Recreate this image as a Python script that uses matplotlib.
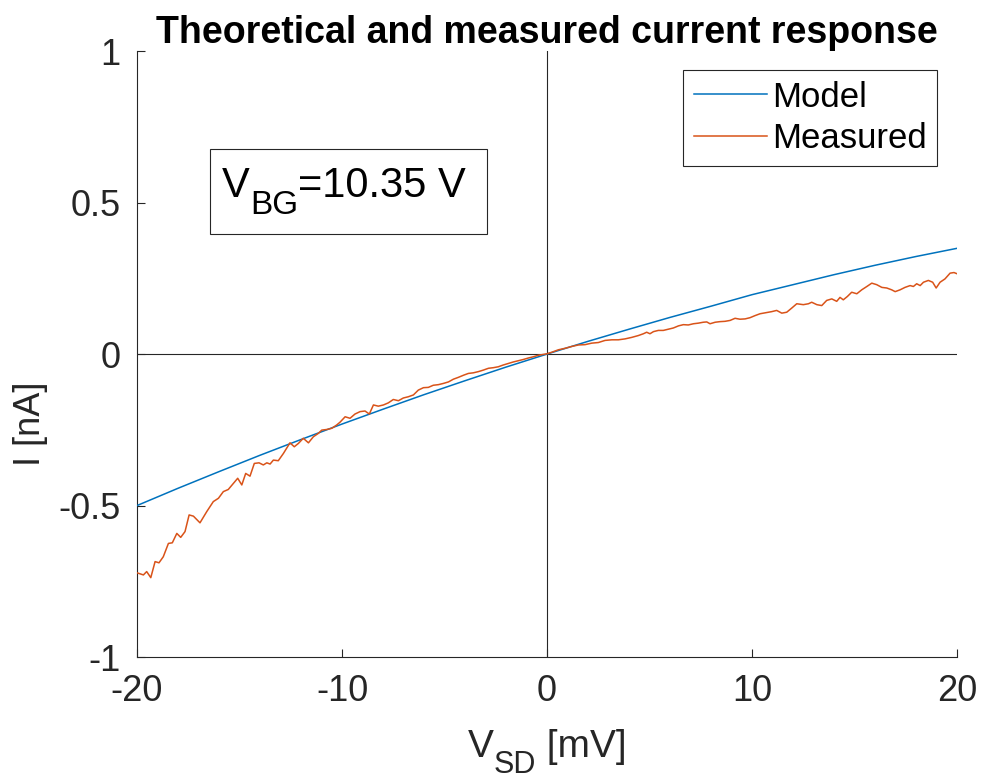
#%% Librerias
import numpy as np
import matplotlib
matplotlib.use('Agg')
import matplotlib.pyplot as plt
from matplotlib.patches import Rectangle

plt.rcParams['font.family'] = 'Liberation Sans'
plt.rcParams['axes.unicode_minus'] = False

#%% Modelo (V_SD en mV, I en nA)
V_model = [-20, -18, -16, -14, -12, -10, -8, -6, -4, -2, 0,
           2, 4, 6, 8, 10, 12, 14, 16, 18, 20]
I_model = [-0.500, -0.443, -0.388, -0.334, -0.282, -0.231, -0.182, -0.134, -0.088, -0.043, 0.000,
           0.042, 0.082, 0.121, 0.158, 0.196, 0.229, 0.262, 0.293, 0.322, 0.349]

#%% Medicion
V_meas = [-20.00, -19.69, -19.53, -19.33, -19.12, -18.93, -18.72, -18.47, -18.28, -18.06,
          -17.87, -17.66, -17.46, -17.25, -16.93, -16.60, -16.28, -16.03, -15.79, -15.55,
          -15.30, -15.09, -14.89, -14.70, -14.49, -14.28, -14.05, -13.84, -13.67, -13.51,
          -13.35, -13.11, -12.86, -12.54, -12.33, -12.13, -11.89, -11.64, -11.40, -11.16,
          -10.99, -10.75, -10.50, -10.26,
          -10.10, -9.85, -9.61, -9.37, -9.12, -8.88, -8.67, -8.47, -8.23, -7.98,
          -7.74, -7.50, -7.25, -7.01, -6.77, -6.52, -6.28, -6.03, -5.79, -5.55,
          -5.30, -5.06, -4.81, -4.57, -4.33, -4.08, -3.84, -3.60, -3.35, -3.11,
          -2.86, -2.62, -2.38, -2.13, -1.89, -1.64, -1.40, -1.16, -0.91, -0.67,
          -0.42, -0.18, 0.00,
          0.23, 0.55, 0.88, 1.20, 1.53, 1.85, 2.18, 2.50, 2.83, 3.16,
          3.48, 3.80, 4.13, 4.45, 4.70, 4.86, 5.02, 5.19, 5.43, 5.67,
          5.92, 6.16, 6.41, 6.65, 6.89, 7.14, 7.38, 7.62, 7.79, 7.95,
          8.20, 8.44, 8.68, 8.93, 9.17, 9.41, 9.66, 9.90,
          10.15, 10.39, 10.72, 10.96, 11.20, 11.45, 11.69, 11.94, 12.18, 12.50,
          12.75, 12.91, 13.16, 13.40, 13.64, 13.89, 14.13, 14.29, 14.45, 14.65,
          14.86, 15.11, 15.35, 15.60, 15.84, 16.08, 16.33, 16.57, 16.81, 16.98,
          17.22, 17.46, 17.71, 17.87, 18.03, 18.20, 18.36, 18.60, 18.81, 18.98,
          19.17, 19.41, 19.66, 19.85, 20.00]
I_meas = [-0.722, -0.729, -0.718, -0.738, -0.685, -0.689, -0.669, -0.625, -0.623, -0.592,
          -0.605, -0.586, -0.531, -0.535, -0.557, -0.520, -0.487, -0.476, -0.454, -0.447,
          -0.427, -0.410, -0.432, -0.394, -0.403, -0.361, -0.359, -0.366, -0.359, -0.363,
          -0.350, -0.352, -0.328, -0.293, -0.306, -0.295, -0.278, -0.293, -0.273, -0.262,
          -0.251, -0.249, -0.245, -0.234,
          -0.225, -0.207, -0.212, -0.198, -0.190, -0.188, -0.198, -0.168, -0.172, -0.168,
          -0.161, -0.150, -0.154, -0.145, -0.141, -0.135, -0.119, -0.111, -0.110, -0.103,
          -0.101, -0.097, -0.092, -0.083, -0.077, -0.070, -0.064, -0.062, -0.058, -0.053,
          -0.047, -0.045, -0.042, -0.036, -0.031, -0.026, -0.022, -0.018, -0.013, -0.009,
          -0.004, -0.001, 0.001,
          0.006, 0.014, 0.019, 0.025, 0.030, 0.031, 0.036, 0.038, 0.045, 0.047,
          0.047, 0.050, 0.055, 0.061, 0.067, 0.072, 0.067, 0.074, 0.078, 0.078,
          0.082, 0.086, 0.093, 0.097, 0.096, 0.100, 0.102, 0.105, 0.106, 0.100,
          0.105, 0.107, 0.108, 0.111, 0.118, 0.115, 0.116, 0.120,
          0.127, 0.133, 0.137, 0.140, 0.144, 0.135, 0.138, 0.152, 0.166, 0.163,
          0.166, 0.171, 0.163, 0.160, 0.177, 0.182, 0.174, 0.187, 0.179, 0.190,
          0.204, 0.199, 0.212, 0.223, 0.234, 0.229, 0.220, 0.218, 0.212, 0.206,
          0.212, 0.220, 0.226, 0.223, 0.232, 0.226, 0.237, 0.243, 0.237, 0.218,
          0.237, 0.248, 0.267, 0.269, 0.265]

V_BG = 10.35  # V

C_model = '#0072BD'
C_meas = '#D95319'
gris = '#262626'


def texto_sub(ax, x, y, base, sub, resto, fs, fs_sub, baja, **kw):
    '''Escribe base_sub + resto con el subindice corrido hacia abajo (estilo MATLAB).'''
    t1 = ax.text(x, y, base, transform=ax.transAxes, fontsize=fs, va='bottom',
                 ha='left', clip_on=False, **kw)
    t2 = ax.annotate(sub, xy=(1, 0), xycoords=t1, xytext=(0, -baja),
                     textcoords='offset points', fontsize=fs_sub, va='bottom',
                     ha='left', annotation_clip=False, **kw)
    t3 = ax.annotate(resto, xy=(1, 0), xycoords=t2, xytext=(0, baja),
                     textcoords='offset points', fontsize=fs, va='bottom',
                     ha='left', annotation_clip=False, **kw)
    return t1, t2, t3


#%% Figura
fig = plt.figure(figsize=(9.81, 7.82), dpi=100)
ax = fig.add_axes([0.1397, 0.1598, 0.8359, 0.7749])

ax.axhline(0, color=gris, lw=0.8, zorder=1)
ax.axvline(0, color=gris, lw=0.8, zorder=1)
ax.plot(V_model, I_model, color=C_model, lw=1.1, label='Model', zorder=3)
ax.plot(V_meas, I_meas, color=C_meas, lw=1.1, label='Measured', zorder=3)

ax.set_xlim(-20, 20)
ax.set_ylim(-1, 1)
ax.set_xticks([-20, -10, 0, 10, 20])
ax.set_yticks([-1, -0.5, 0, 0.5, 1])
ax.set_yticklabels(['-1', '-0.5', '0', '0.5', '1'])

for s in ['top', 'right']:
    ax.spines[s].set_visible(False)
for s in ['left', 'bottom']:
    ax.spines[s].set_color(gris)
    ax.spines[s].set_linewidth(0.8)

ax.tick_params(direction='in', length=6, width=0.8, labelsize=26,
               colors=gris, labelcolor=gris)
ax.tick_params(axis='x', pad=12)
ax.tick_params(axis='y', pad=12)

ax.set_title('Theoretical and measured current response', fontsize=27,
             fontweight='bold', pad=4)
ax.set_ylabel('I [nA]', fontsize=26, color=gris)
ax.yaxis.set_label_coords(-0.108, 0.385)
# etiqueta x con subindice
texto_sub(ax, 0.4037, -0.178, 'V', 'SD', ' [mV]', 28, 22, 11, color=gris)

leg = ax.legend(loc='upper right', bbox_to_anchor=(0.9756, 0.9686), fontsize=25,
                frameon=True, fancybox=False, edgecolor=gris, framealpha=1,
                handlelength=2.1, handletextpad=0.15, borderpad=0.3,
                labelspacing=0.25, borderaxespad=0)
leg.get_frame().set_linewidth(0.8)

# recuadro con la tension de gate
ax.add_patch(Rectangle((0.089, 0.698), 0.3378, 0.140, transform=ax.transAxes,
                       facecolor='white', edgecolor=gris, lw=0.8, zorder=4))
texto_sub(ax, 0.1037, 0.744, 'V', 'BG', f'={V_BG:.2f} V', 30, 24, 11,
          color='k', zorder=5)

fig.savefig('out.png', dpi=100)
